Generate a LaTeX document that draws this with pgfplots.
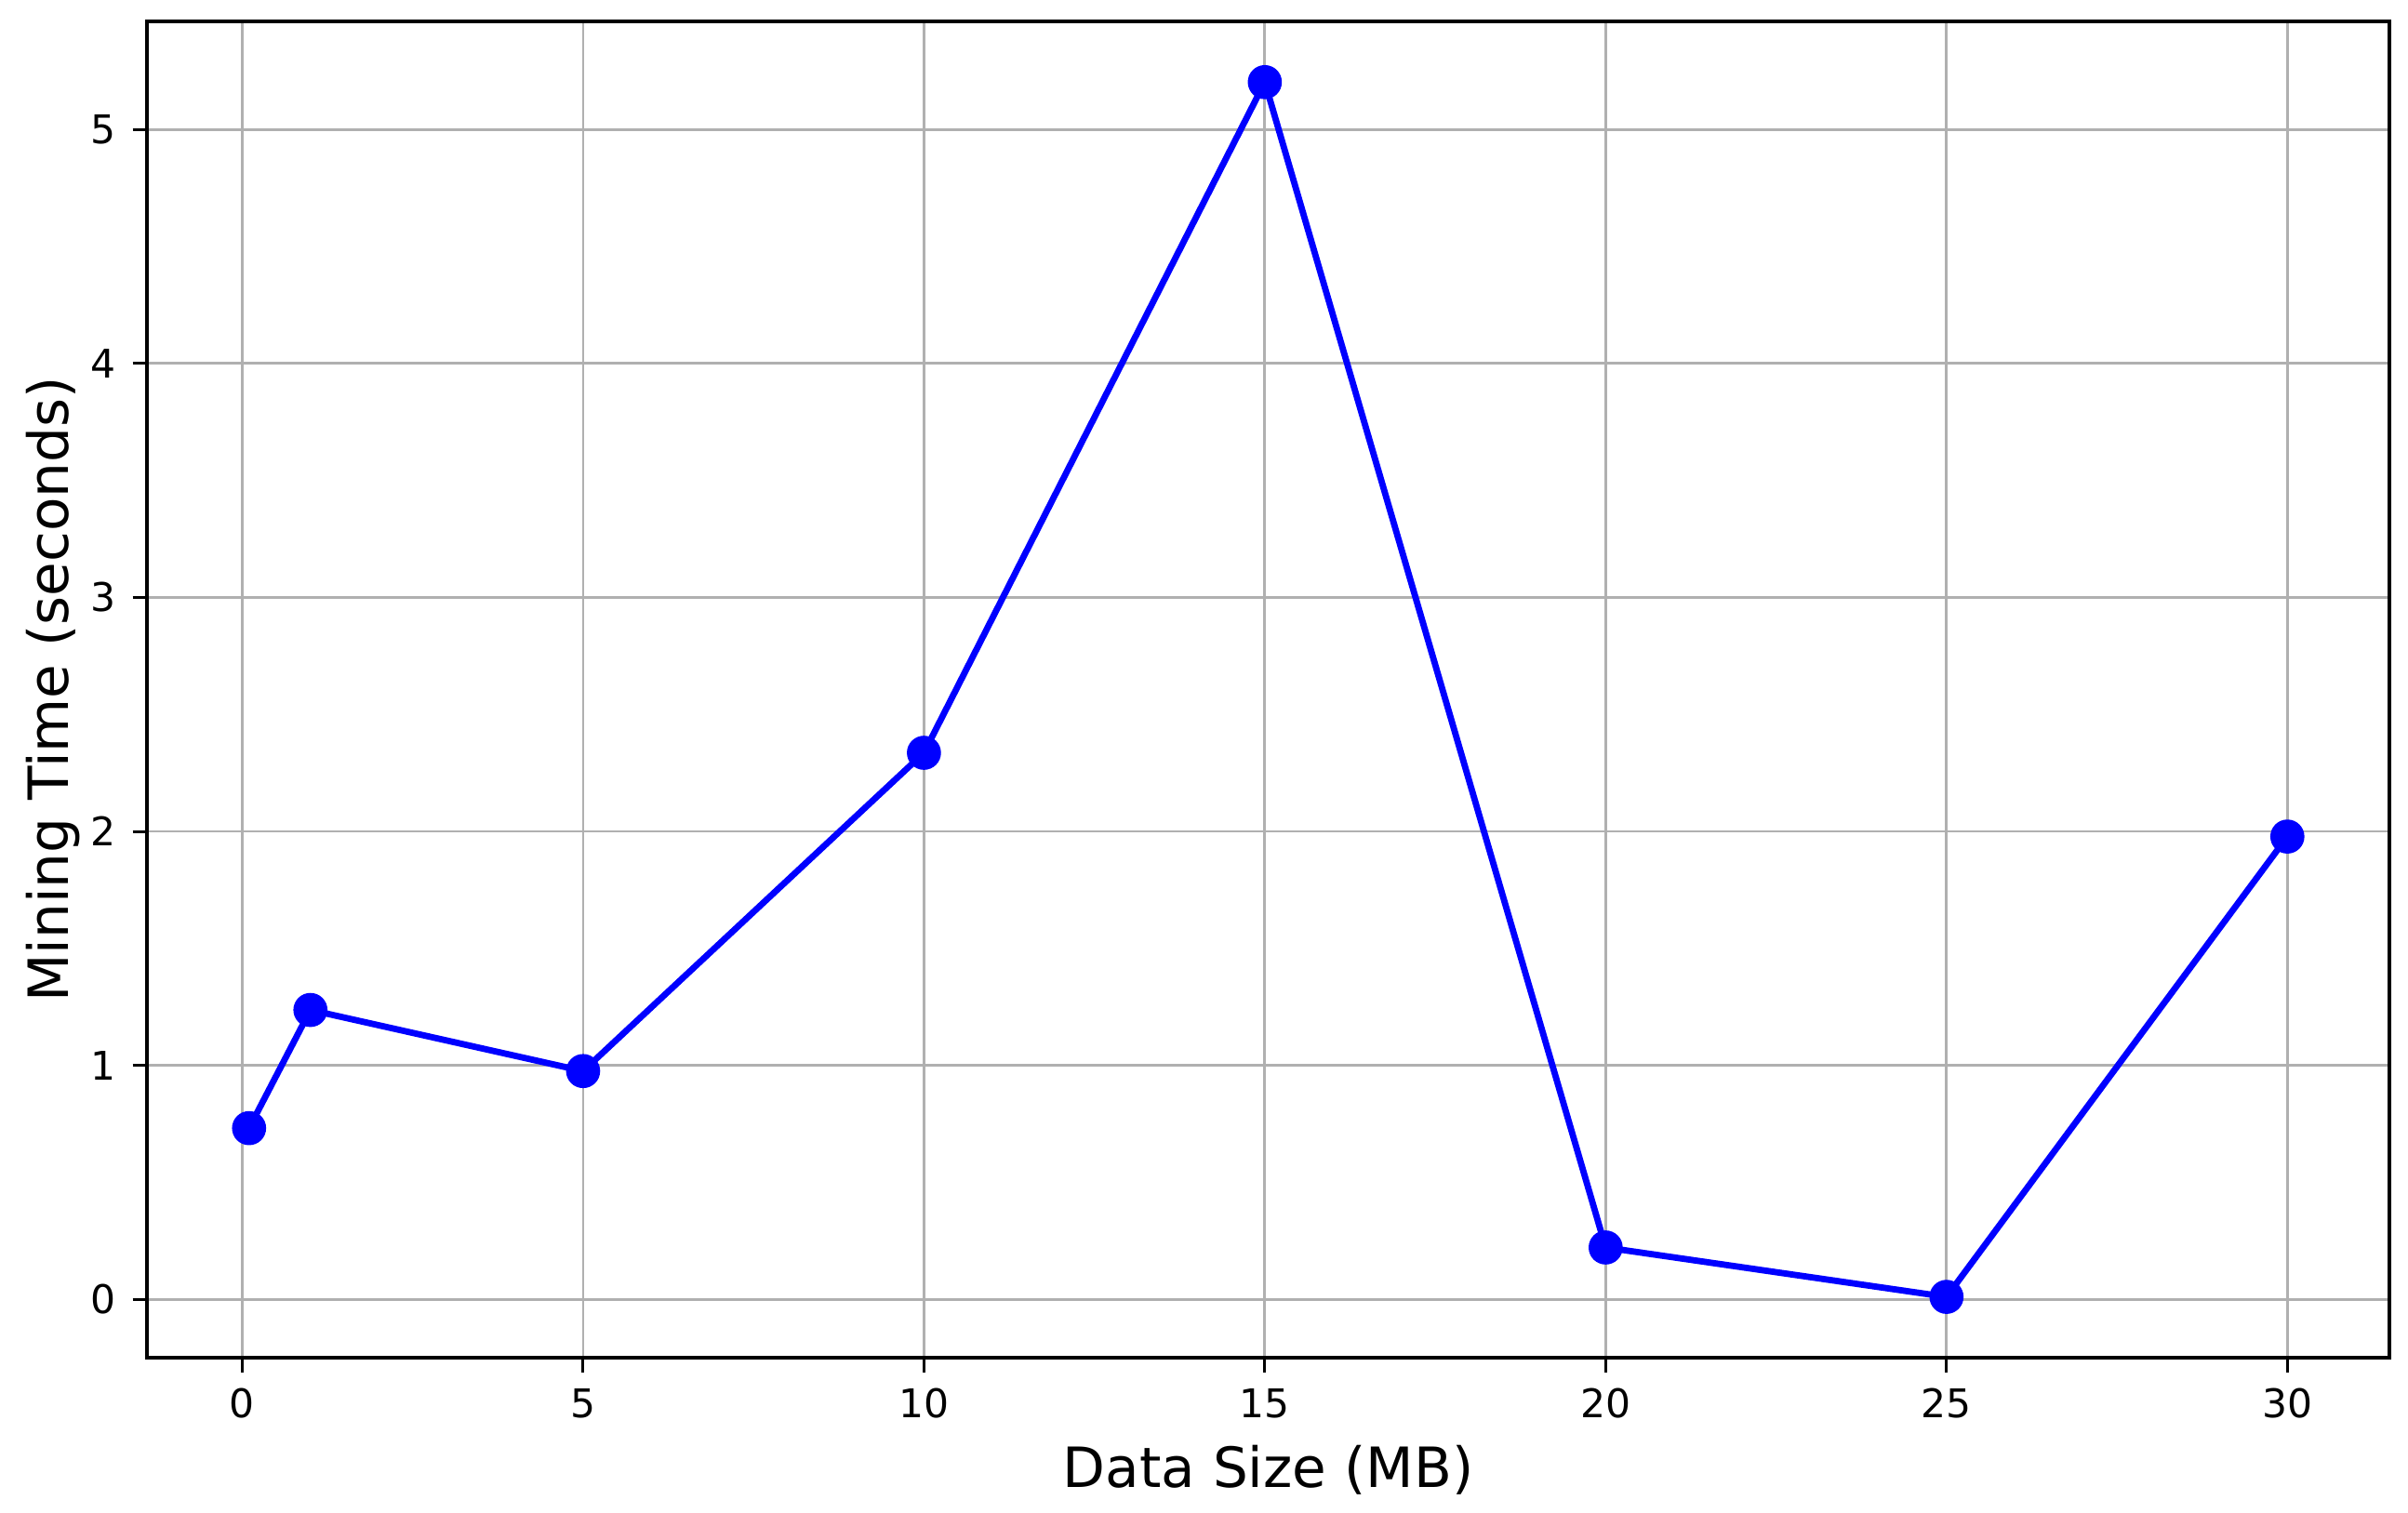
\documentclass[border=0pt]{standalone}
\usepackage{fontspec}
\setmainfont{DejaVu Sans}
\usepackage{pgfplots}
\pgfplotsset{compat=1.18}
\begin{document}
\begin{tikzpicture}
\begin{axis}[
  scale only axis,
  width=16.76cm, height=9.99cm,
  xmin=-1.395, xmax=31.495,
  ymin=-0.2486, ymax=5.4616,
  xtick={0,5,10,15,20,25,30},
  ytick={0,1,2,3,4,5},
  tick align=outside,
  tick pos=left,
  major tick length=3.1pt,
  every tick/.style={black, line width=0.6pt},
  grid=major,
  major grid style={color=black!31, line width=0.55pt},
  axis line style={line width=0.7pt},
  /pgf/number format/assume math mode=true,
  ticklabel style={font=\fontsize{8.4}{10}\selectfont},
  label style={font=\fontsize{11.8}{14}\selectfont},
  xlabel={Data Size (MB)},
  ylabel={Mining Time (seconds)},
  xlabel style={yshift=0.04cm},
  ylabel style={yshift=-0.16cm},
]
\addplot[color=blue, line width=1.35pt, mark=*, mark size=2.95pt, mark options={fill=blue, draw=blue}]
coordinates {
(0.1,0.732)
(1,1.237)
(5,0.976)
(10,2.336)
(15,5.202)
(20,0.222)
(25,0.011)
(30,1.978)
};
\end{axis}
\pgfresetboundingbox
\path[use as bounding box] ([xshift=-1.10cm,yshift=-1.16cm]current axis.south west) rectangle ([xshift=0.14cm,yshift=0.16cm]current axis.north east);
\end{tikzpicture}
\end{document}
